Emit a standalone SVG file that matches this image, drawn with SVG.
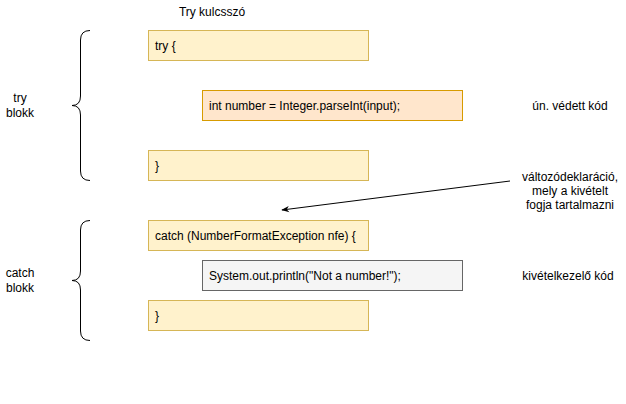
<svg xmlns="http://www.w3.org/2000/svg" width="626" height="404" viewBox="0 0 626 404">
<defs>
<style>
text{font-family:"Liberation Sans",Arial,sans-serif;font-size:12px;fill:#000}
.y{fill:#fff2cc;stroke:#d6b656}
.o{fill:#ffe6cc;stroke:#d79b00}
.g{fill:#f5f5f5;stroke:#666666}
.c{text-anchor:middle}
.br{fill:none;stroke:#000;stroke-width:1}
</style>
<marker id="ah" viewBox="0 0 10 10" refX="9" refY="5" markerWidth="8" markerHeight="8" orient="auto" markerUnits="userSpaceOnUse">
<path d="M0,1 L10,5 L0,9 L3,5 z" fill="#000"/>
</marker>
</defs>
<rect width="626" height="404" fill="#fff"/>
<g id="title"><text class="c" x="212" y="16">Try kulcsszó</text></g>
<g id="try-open"><rect class="y" x="148.5" y="30.5" width="220" height="30"/><text x="155" y="50">try {</text></g>
<g id="int-line"><rect class="o" x="202.5" y="90.5" width="260" height="30"/><text x="209" y="110">int number = Integer.parseInt(input);</text></g>
<g id="try-close"><rect class="y" x="148.5" y="150.5" width="220" height="30"/><text x="155" y="170">}</text></g>
<g id="catch-open"><rect class="y" x="148.5" y="220.5" width="220" height="30"/><text x="155" y="240">catch (NumberFormatException nfe) {</text></g>
<g id="println"><rect class="g" x="202.5" y="260.5" width="260" height="30"/><text x="209" y="280">System.out.println("Not a number!");</text></g>
<g id="catch-close"><rect class="y" x="148.5" y="300.5" width="220" height="30"/><text x="155" y="320">}</text></g>
<g id="try-brace"><path class="br" d="M90,30.5 Q80.5,30.5 80.5,40 L80.5,96 Q80.5,105.5 72,105.5 Q80.5,105.5 80.5,115 L80.5,171 Q80.5,180.5 90,180.5"/></g>
<g id="catch-brace"><path class="br" d="M90,220.5 Q80.5,220.5 80.5,230 L80.5,271 Q80.5,280.5 72,280.5 Q80.5,280.5 80.5,290 L80.5,331 Q80.5,340.5 90,340.5"/></g>
<g id="try-label"><text class="c" x="20" y="102">try</text><text class="c" x="20" y="117">blokk</text></g>
<g id="catch-label"><text class="c" x="20" y="277">catch</text><text class="c" x="20" y="292">blokk</text></g>
<g id="protected-label"><text class="c" x="570" y="110">ún. védett kód</text></g>
<g id="var-label"><text class="c" x="570" y="181">változódeklaráció,</text><text class="c" x="570" y="195">mely a kivételt</text><text class="c" x="570" y="209">fogja tartalmazni</text></g>
<g id="handler-label"><text class="c" x="568" y="280">kivételkezelő kód</text></g>
<g id="connectors"><line x1="510" y1="181" x2="282" y2="210" stroke="#000" stroke-width="1" marker-end="url(#ah)"/></g>
</svg>
